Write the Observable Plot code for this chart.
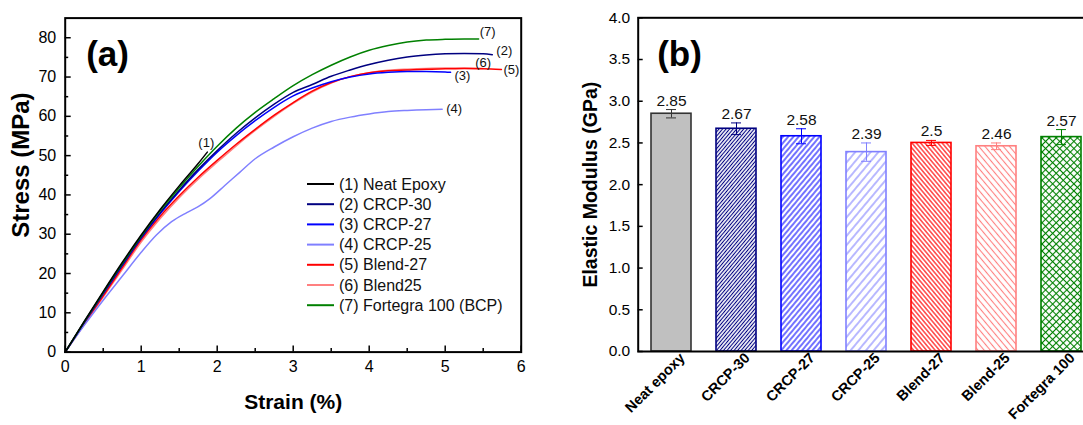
<!DOCTYPE html>
<html><head><meta charset="utf-8">
<script src="https://cdn.jsdelivr.net/npm/d3@7"></script>
<script src="https://cdn.jsdelivr.net/npm/@observablehq/plot@0.6"></script>
<style>
body{margin:0;background:#fff;}
#wrap{position:relative;width:1083px;height:425px;overflow:hidden;background:#fff;}
#a{position:absolute;left:0;top:0;width:540px;height:425px;}
#b{position:absolute;left:540px;top:0;width:565px;height:425px;}
#wrap svg{max-width:none !important;}
</style></head><body><div id="wrap"><div id="a"></div><div id="b"></div></div>
<script>
// ---------- Panel (a): stress–strain curves ----------
const seriesNames = ["(1) Neat Epoxy","(2) CRCP-30","(3) CRCP-27","(4) CRCP-25","(5) Blend-27","(6) Blend25","(7) Fortegra 100 (BCP)"];
const seriesTags = ["(1)","(2)","(3)","(4)","(5)","(6)","(7)"];
const seriesColors = ["#000000","#000080","#0000ff","#8080ff","#ff0000","#ff8080","#008000"];

const strain1 = [0,0.25,0.5,0.75,1.0,1.25,1.5,1.75,1.87];
const stress1 = [0,7.8,15.4,22.8,29.8,36.3,42.3,48.0,50.9];

const strain2 = [0,0.25,0.5,0.75,1,1.25,1.5,1.75,2,2.25,2.5,2.75,3,3.25,3.5,3.75,4,4.25,4.5,4.75,5,5.25,5.5,5.62];
const stress2 = [0,7.6,15,22.2,29.2,35.5,41.2,46.5,51.3,55.7,59.6,63.1,66.1,68.1,70.2,71.8,73.2,74.3,75.1,75.6,75.9,76,75.9,75.7];

const strain3 = [0,0.25,0.5,0.75,1,1.25,1.5,1.75,2,2.25,2.5,2.75,3,3.25,3.5,3.75,4,4.25,4.5,4.75,5,5.07];
const stress3 = [0,7.5,14.8,22,29,35.2,40.9,46.1,50.9,55.1,58.9,62.3,65.2,67.2,68.8,70,70.8,71.2,71.4,71.4,71.3,71.2];

const strain4 = [0,0.25,0.5,0.75,1,1.2,1.4,1.6,1.75,1.9,2.1,2.3,2.5,2.75,3,3.25,3.5,3.75,4,4.25,4.5,4.75,4.96];
const stress4 = [0,6.8,13.2,19.3,25.4,29.8,33.2,35.5,37,39,42.4,45.8,49.2,52.2,54.8,57,58.7,59.8,60.6,61.2,61.5,61.7,61.8];

const strain5 = [0,0.25,0.5,0.75,1,1.25,1.5,1.75,2,2.25,2.5,2.75,3,3.25,3.5,3.75,4,4.25,4.5,4.75,5,5.25,5.5,5.74];
const stress5 = [0,7.2,14.3,21.5,28.6,34.6,39.8,44.5,48.8,52.9,56.7,60.3,63.5,66.4,68.6,70.1,71.1,71.6,71.8,72,72.1,72.2,72.1,71.9];

const strain6 = [0,0.25,0.5,0.75,1,1.25,1.5,1.75,2,2.25,2.5,2.75,3,3.25,3.5,3.75,4,4.25,4.5,4.75,5,5.25,5.5];
const stress6 = [0,7,14,21,28,34,39.3,44,48.3,52.5,56.4,60,63.3,66.2,68.5,70.1,71.1,71.7,72,72.2,72.3,72.3,72.2];

const strain7 = [0,0.25,0.5,0.75,1,1.25,1.5,1.75,2,2.25,2.5,2.75,3,3.25,3.5,3.75,4,4.25,4.5,4.75,5,5.25,5.44];
const stress7 = [0,7.7,15.2,22.5,29.5,36,41.8,47.3,52.4,57,61,64.5,67.8,70.6,73,75.1,76.8,78,78.9,79.4,79.6,79.7,79.7];

const strainTicks = [0,1,2,3,4,5,6];
const stressTicks = [0,10,20,30,40,50,60,70,80];

// ---------- Panel (b): elastic modulus bars ----------
const categories = ["Neat epoxy","CRCP-30","CRCP-27","CRCP-25","Blend-27","Blend-25","Fortegra 100"];
const modulus = [2.85,2.67,2.58,2.39,2.5,2.46,2.57];
const modulusErr = [0.05,0.07,0.09,0.11,0.03,0.04,0.09];
const barColors = ["#333333","#000080","#0000ff","#8080ff","#ff0000","#ff8080","#008000"];
const modulusTicks = [0,0.5,1,1.5,2,2.5,3,3.5,4];

const FONT = '"Liberation Sans", Arial, Helvetica, sans-serif';

// ---- Build panel (a)
const strains = [strain1,strain2,strain3,strain4,strain5,strain6,strain7];
const stresses = [stress1,stress2,stress3,stress4,stress5,stress6,stress7];
const curves = strains.map((s, i) => s.map((x, j) => ({id: i, strain: x, stress: stresses[i][j]})));
const drawOrder = [5,4,3,2,1,6,0];
const tagDx = [-9, 4, 4, 4, 2, -8, 1];
const tagDy = [-9, -4, 4, 0, 0, -6, -7];

const WA = 540, HA = 425, mlA = 64.7, mrA = 19.3, mtA = 17.6, mbA = 73.4;
const pwA = WA - mlA - mrA, phA = HA - mtA - mbA;

const plotA = Plot.plot({
  width: WA, height: HA,
  marginLeft: mlA, marginRight: mrA, marginTop: mtA, marginBottom: mbA,
  style: {fontFamily: FONT, color: "#000", background: "transparent", overflow: "visible"},
  x: {domain: [0, 6], label: null},
  y: {domain: [0, 85], label: null},
  marks: [
    ...drawOrder.map(i => Plot.line(curves[i], {x: "strain", y: "stress", stroke: seriesColors[i], strokeWidth: 1.5, curve: "monotone-x"})),
    ...drawOrder.map(i => Plot.text([curves[i][curves[i].length - 1]], {
      x: "strain", y: "stress", text: () => seriesTags[i], textAnchor: "start",
      dx: tagDx[i], dy: tagDy[i], fontSize: 13, fill: "#111"})),
    Plot.axisX(strainTicks, {tickSize: 0, tickPadding: 9, fontSize: 16, label: null}),
    Plot.axisY(stressTicks, {tickSize: 0, tickPadding: 9, fontSize: 16, label: null}),
    Plot.tickX(strainTicks, {x: d => d, insetTop: phA - 6, stroke: "#000", strokeWidth: 1.5}),
    Plot.tickX(d3.range(0.5, 6, 1), {x: d => d, insetTop: phA - 3.5, stroke: "#000", strokeWidth: 1.5}),
    Plot.tickY(stressTicks, {y: d => d, insetRight: pwA - 6, stroke: "#000", strokeWidth: 1.5}),
    Plot.tickY(d3.range(5, 85, 10), {y: d => d, insetRight: pwA - 3.5, stroke: "#000", strokeWidth: 1.5}),
    Plot.frame({stroke: "#000", strokeWidth: 2}),
    Plot.text(["Strain (%)"], {text: d => d, frameAnchor: "bottom", lineAnchor: "middle", dy: 50, fontSize: 21, fontWeight: "bold"}),
    Plot.text(["Stress (MPa)"], {text: d => d, frameAnchor: "left", textAnchor: "middle", lineAnchor: "middle", dx: -44, dy: -20, rotate: -90, fontSize: 24, fontWeight: "bold"}),
    Plot.text(["(a)"], {text: d => d, frameAnchor: "top-left", textAnchor: "start", lineAnchor: "middle", dx: 21, dy: 36.5, fontSize: 35, fontWeight: "bold"})
  ]
});
document.getElementById("a").appendChild(plotA);

// legend inside panel (a)
{
  const svg = d3.select(plotA);
  const g = svg.append("g").attr("font-family", FONT).attr("font-size", 16).attr("text-anchor", "start");
  seriesNames.forEach((n, i) => {
    const y = 184 + i * 20.2;
    g.append("line").attr("x1", 307).attr("x2", 334).attr("y1", y).attr("y2", y)
      .attr("stroke", seriesColors[i]).attr("stroke-width", 2);
    g.append("text").attr("x", 339).attr("y", y).attr("dy", "0.35em").attr("fill", "#111").text(n);
  });
}

// ---- Build panel (b)
const bars = categories.map((c, i) => ({cat: c, val: modulus[i], err: modulusErr[i], color: barColors[i]}));
const WB = 565, HB = 425, mlB = 97.7, mrB = 10.3, mtB = 17.3, mbB = 74;
const pwB = WB - mlB - mrB;
const fills = ["#c0c0c0","url(#hp1)","url(#hp2)","url(#hp3)","url(#hp4)","url(#hp5)","url(#hp6)"];

const plotB = Plot.plot({
  width: WB, height: HB,
  marginLeft: mlB, marginRight: mrB, marginTop: mtB, marginBottom: mbB,
  style: {fontFamily: FONT, color: "#000", background: "transparent", overflow: "visible", maxWidth: "none"},
  x: {domain: categories, paddingInner: 0.386, paddingOuter: 0.203, label: null},
  y: {domain: [0, 4], label: null},
  color: {type: "identity"},
  marks: [
    ...bars.map((b, i) => Plot.barY([b], {x: "cat", y: "val", fill: fills[i], stroke: b.color, strokeWidth: 1.6})),
    Plot.ruleX(bars, {x: "cat", y1: d => d.val - d.err, y2: d => d.val + d.err, stroke: "color", strokeWidth: 1}),
    Plot.tickY(bars, {x: "cat", y: d => d.val + d.err, stroke: "color", strokeWidth: 1, inset: 15}),
    Plot.tickY(bars, {x: "cat", y: d => d.val - d.err, stroke: "color", strokeWidth: 1, inset: 15}),
    Plot.text(bars, {x: "cat", y: d => d.val + d.err, text: d => String(d.val), dy: -4, lineAnchor: "bottom", fontSize: 15.5, fill: "#111"}),
    Plot.axisY(modulusTicks, {tickSize: 0, tickPadding: 8, tickFormat: d3.format(".1f"), fontSize: 15.5, label: null}),
    Plot.tickY(modulusTicks, {y: d => d, insetRight: pwB - 5, stroke: "#000", strokeWidth: 1.5}),
    Plot.axisX({tickSize: 0, tickRotate: -45, tickPadding: 4, dx: 11, fontSize: 14.5, fontWeight: "bold", label: null}),
    Plot.frame({stroke: "#000", strokeWidth: 2}),
    Plot.text(["Elastic Modulus (GPa)"], {text: d => d, frameAnchor: "left", textAnchor: "middle", lineAnchor: "middle", dx: -47.7, rotate: -90, fontSize: 19.5, fontWeight: "bold"}),
    Plot.text(["(b)"], {text: d => d, frameAnchor: "top-left", textAnchor: "start", lineAnchor: "middle", dx: 19, dy: 36.7, fontSize: 35, fontWeight: "bold"})
  ]
});
document.getElementById("b").appendChild(plotB);

// hatch patterns for panel (b)
{
  const svg = d3.select(plotB);
  const defs = svg.insert("defs", ":first-child");
  const hatch = (id, color, s, angle, cross) => {
    const p = defs.append("pattern").attr("id", id).attr("patternUnits", "userSpaceOnUse")
      .attr("width", s).attr("height", s).attr("patternTransform", `rotate(${angle})`);
    p.append("rect").attr("width", s).attr("height", s).attr("fill", "#fff");
    p.append("line").attr("x1", s / 2).attr("x2", s / 2).attr("y1", 0).attr("y2", s)
      .attr("stroke", color).attr("stroke-width", 1.1);
    if (cross) p.append("line").attr("y1", s / 2).attr("y2", s / 2).attr("x1", 0).attr("x2", s)
      .attr("stroke", color).attr("stroke-width", 1.1);
  };
  hatch("hp1", barColors[1], 2.7, 40, false);
  hatch("hp2", barColors[2], 4.0, 40, false);
  hatch("hp3", barColors[3], 5.9, 40, false);
  hatch("hp4", barColors[4], 3.3, -40, false);
  hatch("hp5", barColors[5], 4.7, -40, false);
  hatch("hp6", barColors[6], 5.0, 45, true);
}
</script></body></html>
